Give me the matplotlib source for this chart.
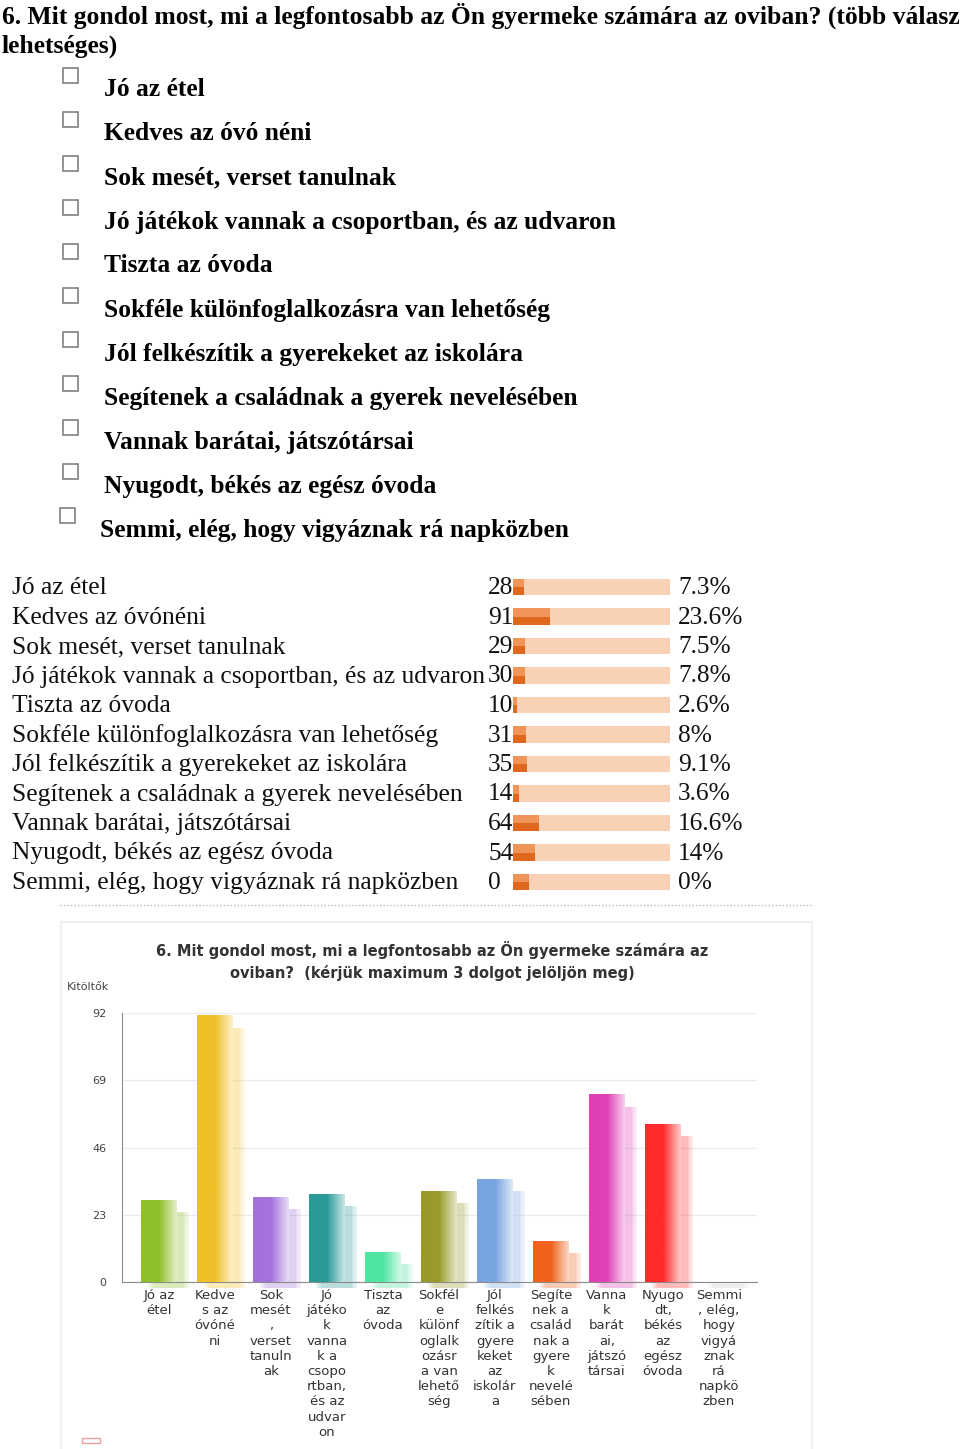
import numpy as np
import matplotlib
matplotlib.use("Agg")
from matplotlib import pyplot as plt
from matplotlib.colors import LinearSegmentedColormap, to_rgb
from matplotlib.patches import Rectangle

W, H = 960, 1449

question = "6. Mit gondol most, mi a legfontosabb az Ön gyermeke számára az oviban? (több válasz"
question2 = "lehetséges)"
options = ["Jó az étel", "Kedves az óvó néni", "Sok mesét, verset tanulnak",
           "Jó játékok vannak a csoportban, és az udvaron", "Tiszta az óvoda",
           "Sokféle különfoglalkozásra van lehetőség",
           "Jól felkészítik a gyerekeket az iskolára",
           "Segítenek a családnak a gyerek nevelésében",
           "Vannak barátai, játszótársai", "Nyugodt, békés az egész óvoda",
           "Semmi, elég, hogy vigyáznak rá napközben"]

table_labels = ["Jó az étel", "Kedves az óvónéni", "Sok mesét, verset tanulnak",
                "Jó játékok vannak a csoportban, és az udvaron", "Tiszta az óvoda",
                "Sokféle különfoglalkozásra van lehetőség",
                "Jól felkészítik a gyerekeket az iskolára",
                "Segítenek a családnak a gyerek nevelésében",
                "Vannak barátai, játszótársai", "Nyugodt, békés az egész óvoda",
                "Semmi, elég, hogy vigyáznak rá napközben"]
counts = np.array([28, 91, 29, 30, 10, 31, 35, 14, 64, 54, 0])
pct_labels = ["7.3%", "23.6%", "7.5%", "7.8%", "2.6%", "8%", "9.1%", "3.6%",
              "16.6%", "14%", "0%"]
pcts = np.array([7.3, 23.6, 7.5, 7.8, 2.6, 8, 9.1, 3.6, 16.6, 14, 0])

chart_title = ["6. Mit gondol most, mi a legfontosabb az Ön gyermeke számára az",
               "oviban?  (kérjük maximum 3 dolgot jelöljön meg)"]
cat_labels = ["Jó az\nétel", "Kedve\ns az\nóvóné\nni",
              "Sok\nmesét\n,\nverset\ntanuln\nak",
              "Jó\njátéko\nk\nvanna\nk a\ncsopo\nrtban,\nés az\nudvar\non",
              "Tiszta\naz\nóvoda",
              "Sokfél\ne\nkülönf\noglalk\nozásr\na van\nlehető\nség",
              "Jól\nfelkés\nzítik a\ngyere\nkeket\naz\niskolár\na",
              "Segíte\nnek a\ncsalád\nnak a\ngyere\nk\nnevelé\nsében",
              "Vanna\nk\nbarát\nai,\njátszó\ntársai",
              "Nyugo\ndt,\nbékés\naz\negész\nóvoda",
              "Semmi\n, elég,\nhogy\nvigyá\nznak\nrá\nnapkö\nzben"]
bar_colors = ["#8fbf2a", "#f0c028", "#a472dc", "#2a9a98", "#4ee6a0", "#9a9a2a",
              "#78a4e0", "#f0621c", "#e040b4", "#ff2a2a", "#cccccc"]
yticks = [0, 23, 46, 69, 92]

serif = "Liberation Serif"

fig = plt.figure(figsize=(W / 100, H / 100), dpi=100)
page = fig.add_axes([0, 0, 1, 1])
page.set_xlim(0, W)
page.set_ylim(H, 0)
page.axis("off")


def px_axes(x0, y0, x1, y1):
    return fig.add_axes([x0 / W, 1 - y1 / H, (x1 - x0) / W, (y1 - y0) / H])


# header + checkbox list
page.text(2, 16, question, fontsize=18.45, fontweight="bold", family=serif, va="center")
page.text(2, 46, question2, fontsize=18.45, fontweight="bold", family=serif, va="center")
for i, opt in enumerate(options):
    bx = 63 if i < 10 else 60
    tx = 104 if i < 10 else 100
    page.add_patch(Rectangle((bx, 68 + 44 * i), 15, 15, facecolor="white",
                             edgecolor="#808080", lw=1.2))
    page.text(tx, 90 + 44 * i, opt, fontsize=18.4, fontweight="bold", family=serif,
              va="center")

# results table
row_y = [588 + 29.5 * i for i in range(len(table_labels))]
for i, lab in enumerate(table_labels):
    page.text(12, row_y[i], lab, fontsize=18.4, family=serif, va="center", color="#111")
    page.text(488, row_y[i], str(counts[i]), fontsize=18.3, family=serif, va="center",
              color="#111")
    page.text(678, row_y[i], pct_labels[i], fontsize=18.3, family=serif, va="center",
              color="#111")

tbl = px_axes(513, 572.25, 670, 896.75)
n = len(pcts)
ypos = np.arange(n)
shown = np.where(pcts > 0, pcts, 10)  # the page draws a stub for zero answers
tbl.barh(ypos, np.full(n, 100), height=0.55, color="#f9d1b5")
tbl.barh(ypos, shown, height=0.55, color="#e0681e")
tbl.barh(ypos - 0.1375, shown, height=0.275, color="#f0955a")
tbl.set_xlim(0, 100)
tbl.set_ylim(n - 0.5, -0.5)
tbl.axis("off")

# separator + chart panel
page.plot([60, 812], [905, 905], color="#bbbbbb", lw=1, ls=(0, (1, 1.5)))
page.add_patch(Rectangle((61, 922), 751, 530, facecolor="white", edgecolor="#f0f0f0",
                         lw=1.5))
page.text(432, 950, chart_title[0], fontsize=10.5, fontweight="bold", ha="center",
          va="center", color="#333")
page.text(432, 973, chart_title[1], fontsize=10.5, fontweight="bold", ha="center",
          va="center", color="#333")
page.text(67, 987, "Kitöltők", fontsize=8, va="center", color="#444")

ax = px_axes(122, 1013, 757, 1282)
ax.set_facecolor("none")
x = np.arange(len(counts))
bw = 0.64
# soft shadow behind each bar
for k, dx in enumerate([0.12, 0.17, 0.22]):
    ax.bar(x + dx, np.maximum(counts - 4, 0) + 2, bottom=-2, width=bw,
           color=bar_colors, alpha=0.12, lw=0, zorder=2, clip_on=False)
bars = ax.bar(x, counts, width=bw, color=bar_colors, lw=0, zorder=3)
for b, c in zip(bars, bar_colors):
    if b.get_height() <= 0:
        continue
    rgb = np.array(to_rgb(c))
    cmap = LinearSegmentedColormap.from_list("g", [rgb, rgb, rgb + (1 - rgb) * 0.75])
    grad = np.linspace(0, 1, 64).reshape(1, -1)
    ax.imshow(grad, cmap=cmap, aspect="auto", zorder=4,
              extent=(b.get_x(), b.get_x() + b.get_width(), 0, b.get_height()))
ax.set_xlim(-0.66, 10.68)
ax.set_ylim(0, 92)
ax.set_yticks(yticks)
ax.set_yticklabels([str(t) for t in yticks], fontsize=8, color="#444")
ax.set_xticks(x)
ax.set_xticklabels(cat_labels, fontsize=9.5, color="#333", linespacing=1.22)
ax.tick_params(axis="y", length=0, pad=11)
ax.tick_params(axis="x", length=0, pad=5)
ax.grid(axis="y", color="#ececec", lw=1, zorder=0)
ax.set_axisbelow(True)
for s in ["top", "right"]:
    ax.spines[s].set_visible(False)
for s in ["left", "bottom"]:
    ax.spines[s].set_color("#8c8c8c")

page.add_patch(Rectangle((82, 1438), 18, 5, facecolor="none", edgecolor="#e8a0a0", lw=1))

fig.savefig("out.png", dpi=100)
